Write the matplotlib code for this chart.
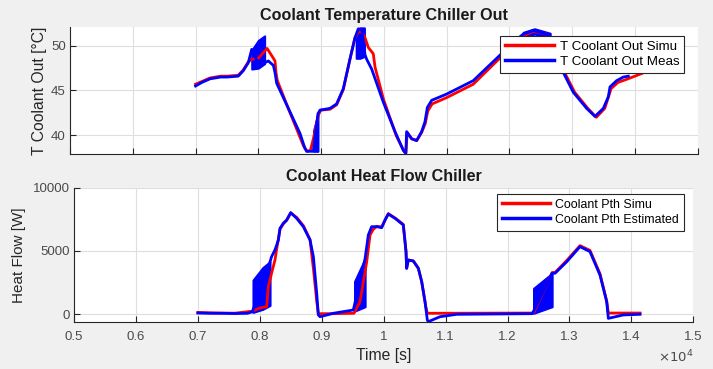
#!/usr/bin/env python3

import matplotlib.pyplot as plt
from matplotlib.ticker import FuncFormatter

plt.rcParams['font.family'] = ['Liberation Sans', 'DejaVu Sans']

# --- top: coolant temperature chiller out [degC] ---
t_temp_simu = [7000, 7100, 7230, 7400, 7500, 7680, 7760, 7840, 7900, 8000, 8100, 8140, 8213,
               8266, 8282, 8303, 8460, 8720, 8780, 8830, 8877, 8956, 8990, 9142, 9248, 9354,
               9460, 9540, 9600, 9650, 9700, 9753, 9832, 9860, 9995, 10200, 10330, 10352,
               10372, 10443, 10523, 10602, 10660, 10700, 10770, 11000, 11425, 11903, 11960,
               12222, 12380, 12600, 12650, 12880, 13040, 13250, 13385, 13520, 13620, 13730,
               13850, 14000, 14110]
T_simu = [45.7, 46.0, 46.4, 46.6, 46.6, 46.7, 47.3, 48.2, 48.5, 48.6, 49.4, 49.7, 48.9,
          48.3, 47.0, 46.1, 43.3, 38.8, 38.2, 38.3, 39.6, 42.2, 42.8, 42.9, 43.4, 45.1,
          48.5, 50.9, 51.6, 51.5, 50.9, 49.8, 49.1, 47.6, 44.0, 39.9, 38.1, 38.0,
          40.3, 39.6, 39.4, 40.3, 41.3, 42.7, 43.5, 44.2, 45.7, 49.0, 49.5,
          51.1, 51.6, 51.3, 50.8, 47.0, 44.8, 43.0, 42.0, 43.0, 45.2, 45.9,
          46.2, 46.6, 46.9]

t_temp_meas = [7000, 7100, 7230, 7400, 7500, 7680, 7760, 7840, 7895, 8000, 8100, 8160, 8240,
               8266, 8293, 8452, 8664, 8744, 8770, 8876, 8950, 8983, 9142, 9248, 9354, 9460,
               9540, 9593, 9650, 9700, 9726, 9806, 9991, 10178, 10310, 10350, 10363, 10443,
               10523, 10602, 10655, 10693, 10762, 11001, 11425, 11903, 11957, 12222, 12382,
               12595, 12647, 12860, 13018, 13231, 13364, 13497, 13577, 13603, 13709, 13815,
               13895]
T_meas = [45.5, 45.9, 46.3, 46.5, 46.5, 46.6, 47.2, 48.1, 49.6, 48.0, 48.1, 48.3, 47.8,
          47.0, 45.8, 43.4, 40.2, 38.5, 38.2, 38.2, 42.4, 42.8, 43.0, 43.5, 45.2, 48.5,
          50.9, 51.9, 51.8, 49.0, 48.5, 47.4, 43.7, 40.4, 38.3, 38.0, 40.4, 39.6,
          39.4, 40.4, 41.5, 43.1, 43.9, 44.6, 46.1, 49.3, 49.8, 51.3, 51.7,
          51.3, 50.9, 47.0, 44.8, 43.0, 42.1, 43.0, 44.3, 45.4, 46.1, 46.5,
          46.6]

# oscillating stretches of the measured signal (envelope)
temp_bursts = [
    ([7895, 8000, 8100], [47.4, 47.5, 48.0], [49.5, 50.6, 51.1]),
    ([8880, 8950], [38.2, 38.2], [40.5, 42.4]),
    ([9560, 9620, 9690], [48.6, 48.6, 48.8], [51.3, 52.0, 52.0]),
    ([12220, 12400, 12650], [51.0, 51.3, 50.9], [51.5, 51.9, 51.4]),
]

# --- bottom: coolant heat flow chiller [W] ---
t_heat_simu = [7000, 7200, 7400, 7600, 7880, 8000, 8111, 8137, 8190, 8245, 8270, 8326, 8380,
               8434, 8499, 8595, 8703, 8811, 8870, 8920, 8945, 9200, 9520, 9618, 9726, 9780,
               9830, 9890, 9968, 10075, 10200, 10317, 10361, 10371, 10398, 10479, 10560,
               10614, 10680, 10705, 12420, 12720, 12767, 12956, 13170, 13331, 13493, 13601,
               13628, 14140]
P_simu = [150, 120, 100, 90, 250, 500, 600, 2180, 3240, 4290, 5080, 6700, 7150,
          7420, 8000, 7650, 7000, 5900, 3400, 1000, 50, 50, 80, 1000, 4150, 6260,
          6700, 6950, 6900, 7950, 7550, 7100, 4950, 3630, 4290, 4210, 3630,
          2580, 600, 80, 100, 3300, 3300, 4250, 5420, 5050, 3200, 1050,
          100, 100]

t_heat_est = [7000, 7200, 7400, 7600, 7800, 7880, 8165, 8190, 8245, 8300, 8326, 8380, 8434,
              8499, 8595, 8703, 8811, 8865, 8919, 8945, 8972, 9187, 9510, 9700, 9752, 9806,
              9887, 9968, 10022, 10075, 10183, 10317, 10361, 10371, 10398, 10479, 10560,
              10614, 10668, 10705, 10721, 10910, 11180, 12400, 12720, 12767, 12956, 13170,
              13331, 13493, 13601, 13628, 13870, 14139]
P_est = [100, 80, 80, 60, 80, 200, 4150, 4550, 5080, 5870, 6790, 7190, 7450,
         8030, 7580, 6920, 5870, 4550, 1660, -50, -190, 80, 340, 4400, 6260, 6920,
         6920, 6840, 7450, 7920, 7580, 7050, 4950, 3630, 4290, 4210, 3630,
         2580, 1000, -450, -580, -190, 0, 50, 3240, 3240, 4150, 5340,
         4950, 3100, 1000, -320, -50, 0]

heat_bursts = [
    ([7890, 8050, 8165], [150, 400, 700], [2700, 3700, 4150]),
    ([9530, 9700], [250, 600], [2600, 4400]),
    ([12420, 12720], [80, 600], [2050, 3240]),
]

x_ticks = [5000, 6000, 7000, 8000, 9000, 10000, 11000, 12000, 13000, 14000, 15000]

RED = '#ff0000'
BLUE = '#0000ff'
AX_COL = '#262626'

fig = plt.figure(figsize=(7.13, 3.69), dpi=100, facecolor='#f0f0f0')
ax1 = fig.add_axes([0.0982, 0.5827, 0.8803, 0.3442])
ax2 = fig.add_axes([0.1038, 0.1266, 0.8686, 0.3648])


def style(ax):
    ax.set_facecolor('white')
    for s in ['top', 'right']:
        ax.spines[s].set_visible(False)
    for s in ['left', 'bottom']:
        ax.spines[s].set_color(AX_COL)
        ax.spines[s].set_linewidth(0.8)
    ax.grid(True, color='#dedede', lw=0.8)
    ax.set_axisbelow(True)
    ax.tick_params(direction='in', length=4, width=0.8, color=AX_COL,
                   labelcolor='#4a4a4a', labelsize=9.5)
    ax.tick_params(axis='x', pad=6)
    ax.tick_params(axis='y', pad=3)
    ax.set_xlim(5000, 15000)
    ax.set_xticks(x_ticks)


style(ax1)
ax1.plot(t_temp_simu, T_simu, color=RED, lw=2, label='T Coolant Out Simu')
ax1.plot(t_temp_meas, T_meas, color=BLUE, lw=2, label='T Coolant Out Meas')
for bt, lo, hi in temp_bursts:
    ax1.fill_between(bt, lo, hi, color=BLUE, lw=1.5)
ax1.set_ylim(37.9, 52.1)
ax1.set_yticks([40, 45, 50])
ax1.tick_params(labelbottom=False)
ax1.set_ylabel('T Coolant Out [°C]', fontsize=11.3, color=AX_COL, labelpad=3)
ax1.set_title('Coolant Temperature Chiller Out', fontsize=11.6, fontweight='bold',
              color='#1a1a1a', pad=5)
leg1 = ax1.legend(loc='upper right', bbox_to_anchor=(0.978, 0.93), fontsize=9.6,
                  handlelength=3.7, handletextpad=0.4, borderpad=0.35, labelspacing=0.2,
                  fancybox=False, framealpha=1, edgecolor=AX_COL, borderaxespad=0)
leg1.get_frame().set_linewidth(0.8)
for h in leg1.get_lines():
    h.set_linewidth(2.5)

style(ax2)
ax2.plot(t_heat_simu, P_simu, color=RED, lw=2, label='Coolant Pth Simu')
ax2.plot(t_heat_est, P_est, color=BLUE, lw=2, label='Coolant Pth Estimated')
for bt, lo, hi in heat_bursts:
    ax2.fill_between(bt, lo, hi, color=BLUE, lw=1.5)
ax2.set_ylim(-630, 10000)
ax2.set_yticks([0, 5000, 10000])
ax2.xaxis.set_major_formatter(FuncFormatter(lambda v, p: f'{v / 1e4:g}'))
ax2.set_ylabel('Heat Flow [W]', fontsize=11, color=AX_COL, labelpad=5)
ax2.set_xlabel('Time [s]', fontsize=11.3, color=AX_COL, labelpad=4)
ax2.set_title('Coolant Heat Flow Chiller', fontsize=11.6, fontweight='bold',
              color='#1a1a1a', pad=5)
ax2.text(1.0, -0.26, r'$\times10^{4}$', transform=ax2.transAxes, ha='right', va='center',
         fontsize=9.5, color='#4a4a4a')
leg2 = ax2.legend(loc='upper right', bbox_to_anchor=(0.985, 0.955), fontsize=8.9,
                  handlelength=3.9, handletextpad=0.4, borderpad=0.4, labelspacing=0.25,
                  fancybox=False, framealpha=1, edgecolor=AX_COL, borderaxespad=0)
leg2.get_frame().set_linewidth(0.8)
for h in leg2.get_lines():
    h.set_linewidth(2.5)

plt.savefig('out.png', dpi=100, facecolor=fig.get_facecolor())
